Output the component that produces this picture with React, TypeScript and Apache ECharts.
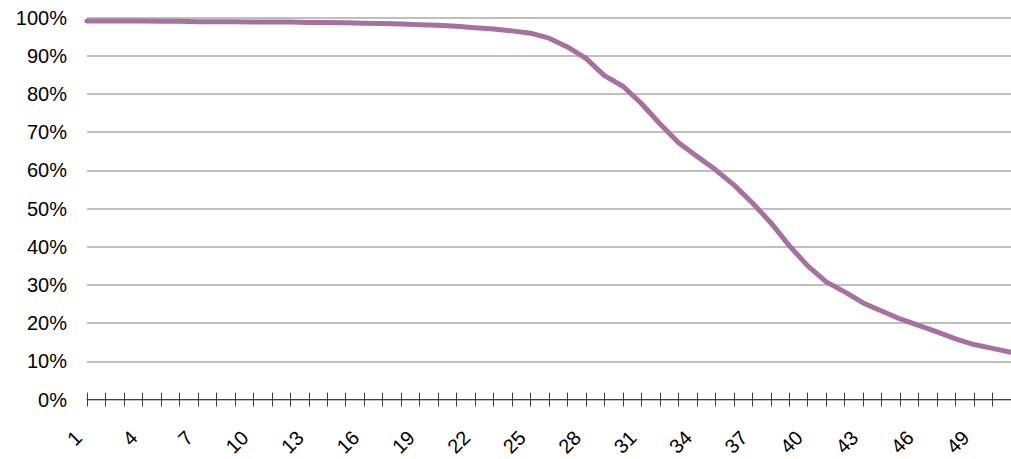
import React, { useEffect, useRef } from "react";
import * as echarts from "echarts";

const categories: string[] = [];
for (let i = 1; i <= 51; i++) categories.push(String(i));

const values: number[] = [
  99.1, 99.1, 99.1, 99.1, 99.0, 99.0, 98.9, 98.9, 98.9, 98.8,
  98.8, 98.8, 98.7, 98.7, 98.6, 98.5, 98.4, 98.3, 98.1, 98.0,
  97.7, 97.3, 97.0, 96.5, 95.9, 94.6, 92.3, 89.3, 84.8, 82.0,
  77.5, 72.2, 67.3, 63.7, 60.2, 56.2, 51.5, 46.3, 40.3, 35.0,
  30.8, 28.2, 25.3, 23.2, 21.1, 19.4, 17.7, 15.9, 14.4, 13.4,
  12.4,
];

const yTicks = [0, 10, 20, 30, 40, 50, 60, 70, 80, 90, 100];

export default function App() {
  const ref = useRef<HTMLDivElement>(null);
  useEffect(() => {
    if (!ref.current) return;
    const chart = echarts.init(ref.current, undefined, { renderer: "svg" });
    const font = "Liberation Sans, Arial, sans-serif";
    chart.setOption({
      animation: false,
      backgroundColor: "#ffffff",
      grid: { left: 87, right: -3.5, top: 17.5, bottom: 59, containLabel: false },
      xAxis: [
        {
          type: "category",
          data: categories,
          boundaryGap: false,
          position: "bottom",
          axisLine: { show: true, lineStyle: { color: "#404040", width: 1 } },
          axisTick: { show: true, interval: 0, length: 7, lineStyle: { color: "#404040", width: 1 } },
          axisLabel: {
            interval: 2,
            rotate: 45,
            margin: 26,
            padding: [0, 12, 0, 0],
            color: "#000000",
            fontSize: 20,
            fontFamily: font,
          },
          splitLine: { show: false },
        },
        {
          type: "category",
          data: categories,
          boundaryGap: false,
          position: "bottom",
          axisLine: { show: false },
          axisTick: { show: true, inside: true, interval: 0, length: 7, lineStyle: { color: "#404040", width: 1 } },
          axisLabel: { show: false },
          splitLine: { show: false },
        },
      ],
      yAxis: {
        type: "value",
        min: 0,
        max: 100,
        interval: 10,
        axisLine: { show: false },
        axisTick: { show: false },
        axisLabel: {
          margin: 20,
          color: "#000000",
          fontSize: 20,
          fontFamily: font,
          formatter: (v: number) => (yTicks.includes(v) ? v + "%" : ""),
        },
        splitLine: { show: true, lineStyle: { color: "#bfbfbf", width: 2 } },
      },
      series: [
        {
          type: "line",
          data: values,
          xAxisIndex: 0,
          showSymbol: false,
          symbol: "none",
          lineStyle: { color: "#a6719f", width: 5, cap: "round", join: "round" },
          itemStyle: { color: "#a6719f" },
        },
      ],
    });
    return () => chart.dispose();
  }, []);
  return (
    <div
      ref={ref}
      style={{ position: "absolute", left: 0, top: 0, width: 1011, height: 459 }}
    />
  );
}
